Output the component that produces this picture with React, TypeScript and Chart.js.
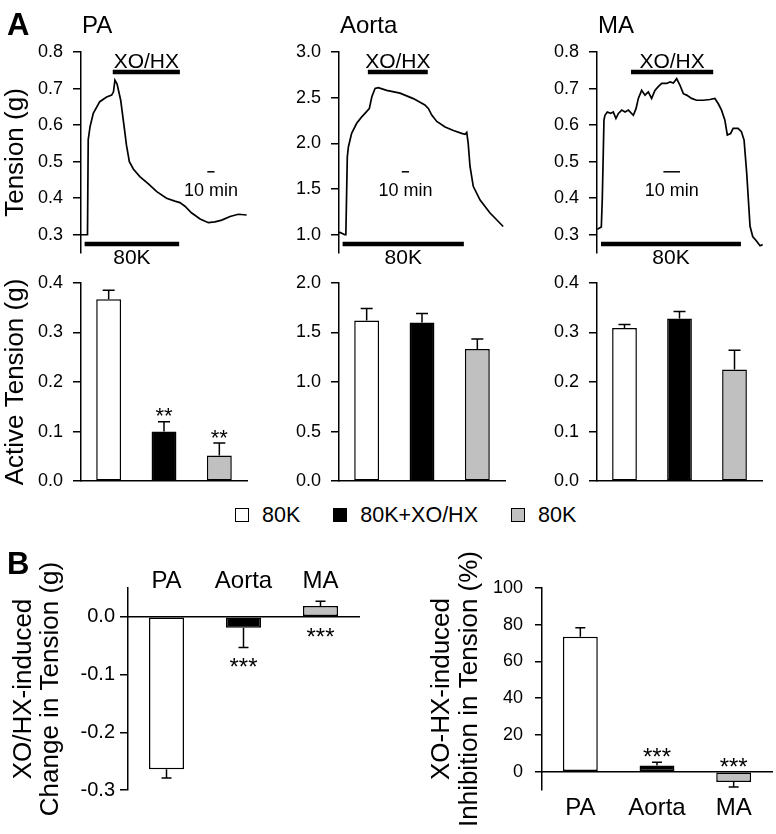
import React, { useEffect, useRef } from 'react';
import { Chart, registerables } from 'chart.js';
Chart.register(...registerables);

const FONT = '"Liberation Sans", Arial, Helvetica, sans-serif';
Chart.defaults.font.family = FONT;
Chart.defaults.color = '#000';

// ---------- Panel A, raw traces (time in min, tension in g) ----------
const PA_TIME = [0, 9, 10, 12.5, 17, 26, 35.5, 42.5, 45, 47, 50, 55, 59.5, 63, 67, 72.5, 81.5, 93, 105, 118.5, 130, 137, 144, 153, 165, 176.5, 185.5, 195, 206.5, 218, 229.5];
const PA_TENSION = [0.3, 0.3, 0.56, 0.595, 0.632, 0.664, 0.677, 0.682, 0.691, 0.723, 0.712, 0.668, 0.6, 0.545, 0.5, 0.48, 0.459, 0.44, 0.418, 0.4, 0.392, 0.388, 0.378, 0.36, 0.343, 0.333, 0.335, 0.34, 0.35, 0.356, 0.354];
const PA_XOHX = [44, 137];
const PA_K80 = [5, 136];
const PA_SCALEBAR = [175, 185];

const AO_TIME = [0, 1.5, 8, 9.5, 11.5, 13, 17.5, 24.5, 31.5, 38.5, 42, 45.5, 50, 54.5, 66, 84.5, 103, 119, 124, 128.5, 135.5, 147, 158.5, 170, 174.5, 177, 179, 181.5, 186, 195.5, 209, 227.5];
const AO_TENSION = [1.02, 1.025, 1.0, 1.0, 1.85, 1.96, 2.11, 2.22, 2.29, 2.35, 2.38, 2.51, 2.6, 2.61, 2.58, 2.55, 2.49, 2.42, 2.38, 2.31, 2.24, 2.18, 2.14, 2.11, 2.1, 2.12, 2.0, 1.75, 1.53, 1.38, 1.24, 1.09];
const AO_XOHX = [40, 123];
const AO_K80 = [5, 173];
const AO_SCALEBAR = [87, 97];

const MA_TIME = [0.2, 2.6, 3.2, 4.2, 4.8, 6.2, 8.2, 9.8, 11.4, 12.9, 14.9, 16.9, 18.9, 21.9, 23.5, 24.9, 26.9, 28.9, 30.9, 32.9, 34.9, 36.9, 39, 42, 44, 46, 48, 50, 52, 54, 57, 60, 64, 68, 71, 73, 75, 77, 78.5, 80.5, 82, 85, 87, 88.6, 90.2, 91.2, 92.2, 93.8, 96.2, 98.2, 99.8];
const MA_TENSION = [0.315, 0.321, 0.4, 0.614, 0.627, 0.636, 0.632, 0.636, 0.618, 0.632, 0.641, 0.636, 0.641, 0.627, 0.645, 0.673, 0.695, 0.682, 0.691, 0.673, 0.695, 0.705, 0.714, 0.714, 0.718, 0.715, 0.727, 0.709, 0.686, 0.682, 0.673, 0.668, 0.668, 0.67, 0.673, 0.659, 0.641, 0.614, 0.573, 0.577, 0.591, 0.591, 0.582, 0.559, 0.468, 0.395, 0.323, 0.295, 0.282, 0.27, 0.273];
const MA_XOHX = [20.5, 70];
const MA_K80 = [2.4, 86.7];
const MA_SCALEBAR = [40, 50];

const TICKS_SMALL = [0.3, 0.4, 0.5, 0.6, 0.7, 0.8];
const TICKS_AORTA = [1.0, 1.5, 2.0, 2.5, 3.0];

// ---------- Panel A, active tension bars ----------
const CONDITIONS = ['80K', '80K+XO/HX', '80K'];
const CONDITION_COLORS = ['#ffffff', '#000000', '#c0c0c0'];
const PA_ACTIVE = [0.367, 0.1, 0.052];
const PA_ACTIVE_SEM = [0.018, 0.02, 0.025];
const PA_ACTIVE_SIG = ['', '**', '**'];
const AO_ACTIVE = [1.62, 1.6, 1.333];
const AO_ACTIVE_SEM = [0.12, 0.09, 0.1];
const AO_ACTIVE_SIG = ['', '', ''];
const MA_ACTIVE = [0.309, 0.328, 0.225];
const MA_ACTIVE_SEM = [0.007, 0.014, 0.039];
const MA_ACTIVE_SIG = ['', '', ''];
const TICKS_ACT_SMALL = [0, 0.1, 0.2, 0.3, 0.4];
const TICKS_ACT_AORTA = [0, 0.5, 1.0, 1.5, 2.0];

// ---------- Panel B ----------
const SITES = ['PA', 'Aorta', 'MA'];
const SITE_COLORS = ['#ffffff', '#000000', '#c0c0c0'];
const CHANGE = [-0.264, -0.019, 0.019];
const CHANGE_SEM = [0.015, 0.034, 0.008];
const CHANGE_SIG = ['', '***', '***'];
const TICKS_CHANGE = [-0.3, -0.2, -0.1, 0.0];
const INHIB = [73.5, 3.3, -5.6];
const INHIB_SEM = [4.9, 1.8, 2.8];
const INHIB_SIG = ['', '***', '***'];
const TICKS_INHIB = [0, 20, 40, 60, 80, 100];

// ---------- drawing helpers ----------
const XOHX_LEVEL = 0.9;
const K80_LEVEL = 0.045;
const BAR_LEVEL = 0.404;

function drawCap(ctx, text, x, yc, size, align = 'center') {
  ctx.save();
  ctx.font = `${size}px ${FONT}`;
  ctx.fillStyle = '#000';
  ctx.textAlign = align;
  ctx.textBaseline = 'alphabetic';
  ctx.fillText(text, x, yc + 0.358 * size);
  ctx.restore();
}

function drawStars(ctx, text, x, yc, size) {
  ctx.save();
  ctx.font = `${size}px ${FONT}`;
  ctx.fillStyle = '#000';
  ctx.textAlign = 'center';
  ctx.textBaseline = 'alphabetic';
  ctx.fillText(text, x, yc + 0.58 * size);
  ctx.restore();
}

const traceNotes = {
  id: 'traceNotes',
  afterDatasetsDraw(chart, _args, o) {
    const { ctx, chartArea } = chart;
    const xs = chart.scales.x;
    const ys = chart.scales.y;
    const lv = (f) => ys.getPixelForValue(ys.min + f * (ys.max - ys.min));
    const mid = (r) => xs.getPixelForValue((r[0] + r[1]) / 2);
    drawCap(ctx, o.title, chartArea.left + 1, chartArea.top - 28, 24, 'left');
    drawCap(ctx, 'XO/HX', mid(o.xohx), lv(XOHX_LEVEL) - 12, 21);
    drawCap(ctx, '80K', mid(o.k80), lv(K80_LEVEL) + 13, 21);
    drawCap(ctx, '10 min', mid(o.bar), lv(BAR_LEVEL) + 18, 18);
  },
};

const errStars = {
  id: 'errStars',
  afterDatasetsDraw(chart, _args, o) {
    const { ctx } = chart;
    const ys = chart.scales.y;
    const meta = chart.getDatasetMeta(0);
    const vals = chart.data.datasets[0].data;
    ctx.save();
    ctx.strokeStyle = '#000';
    ctx.lineWidth = 1.5;
    meta.data.forEach((bar, i) => {
      const v = vals[i];
      const e = o.err[i];
      const dir = v >= 0 ? 1 : -1;
      const y0 = ys.getPixelForValue(v);
      const y1 = ys.getPixelForValue(v + dir * e);
      ctx.beginPath();
      ctx.moveTo(bar.x, y0);
      ctx.lineTo(bar.x, y1);
      ctx.moveTo(bar.x - o.cap / 2, y1);
      ctx.lineTo(bar.x + o.cap / 2, y1);
      ctx.stroke();
      if (o.sig[i]) {
        const anchor = o.below ? Math.min(0, v < 0 ? v - e : 0) : Math.max(0, v >= 0 ? v + e : 0);
        const ay = ys.getPixelForValue(anchor);
        drawStars(ctx, o.sig[i], bar.x, o.below ? ay + o.gap : ay - o.gap, o.starSize);
      }
    });
    ctx.restore();
  },
};

function yAxis({ min, max, ticks, digits, width, tickLen, pad, tickSize, title, titleSize, titlePad, titleLH }) {
  return {
    type: 'linear',
    position: 'left',
    min,
    max,
    afterBuildTicks: (s) => {
      s.ticks = ticks.map((v) => ({ value: v }));
    },
    afterFit: (s) => {
      s.width = width;
    },
    ticks: {
      callback: (v) => Number(v).toFixed(digits),
      font: { size: tickSize || 18, family: FONT },
      color: '#000',
      padding: pad,
    },
    grid: { display: true, drawOnChartArea: false, drawTicks: true, tickLength: tickLen, color: '#000', lineWidth: 1.5 },
    border: { display: true, color: '#000', width: 1.5 },
    title: title
      ? {
          display: true,
          text: title,
          color: '#000',
          font: { size: titleSize, family: FONT, lineHeight: titleLH || 1.2 },
          padding: { top: titlePad, bottom: 0 },
        }
      : { display: false },
  };
}

const baseOptions = {
  responsive: false,
  animation: false,
  devicePixelRatio: 1,
  events: [],
};

function traceConfig(p) {
  const lv = (f) => p.ymin + f * (p.ymax - p.ymin);
  const seg = (r, f) => [
    { x: r[0], y: lv(f) },
    { x: r[1], y: lv(f) },
  ];
  const line = (data, w) => ({
    data,
    borderColor: '#000',
    backgroundColor: '#000',
    borderWidth: w,
    pointRadius: 0,
    tension: 0,
    fill: false,
  });
  return {
    type: 'line',
    data: {
      datasets: [
        line(p.time.map((t, i) => ({ x: t, y: p.tension[i] })), 1.7),
        line(seg(p.xohx, XOHX_LEVEL), 4.5),
        line(seg(p.k80, K80_LEVEL), 4.5),
        line(seg(p.bar, BAR_LEVEL), 1.5),
      ],
    },
    options: {
      ...baseOptions,
      layout: { padding: { left: 0, top: 52, right: p.padRight, bottom: 22 } },
      plugins: {
        legend: { display: false },
        tooltip: { enabled: false },
        traceNotes: { title: p.title, xohx: p.xohx, k80: p.k80, bar: p.bar },
      },
      scales: {
        x: { type: 'linear', display: false, min: 0, max: p.xmax },
        y: yAxis({
          min: p.ymin,
          max: p.ymax,
          ticks: p.ticks,
          digits: 1,
          width: p.yWidth,
          tickLen: 8,
          pad: 10,
          title: p.yTitle,
          titleSize: 26,
          titlePad: 0.5,
        }),
      },
    },
    plugins: [traceNotes],
  };
}

function activeConfig(p) {
  return {
    type: 'bar',
    data: {
      labels: CONDITIONS,
      datasets: [
        {
          data: p.values,
          backgroundColor: CONDITION_COLORS,
          borderColor: '#000',
          borderWidth: 1.5,
          borderSkipped: false,
          barPercentage: 0.45,
          categoryPercentage: 1,
        },
      ],
    },
    options: {
      ...baseOptions,
      layout: { padding: { left: 0, top: 20, right: p.padRight, bottom: 19 } },
      plugins: {
        legend: { display: false },
        tooltip: { enabled: false },
        errStars: { err: p.sem, sig: p.sig, cap: 12, below: false, gap: 11, starSize: 22 },
      },
      scales: {
        x: {
          type: 'category',
          position: 'bottom',
          grid: { display: false },
          ticks: { display: false },
          border: { display: true, color: '#000', width: 1.5 },
          afterFit: (s) => {
            s.height = 0;
          },
        },
        y: yAxis({
          min: 0,
          max: p.max,
          ticks: p.ticks,
          digits: 1,
          width: p.yWidth,
          tickLen: 8,
          pad: 10,
          title: p.yTitle,
          titleSize: 26,
          titlePad: 0,
        }),
      },
    },
    plugins: [errStars],
  };
}

function siteConfig(p) {
  const labelAxis = {
    type: 'category',
    labels: SITES,
    position: p.labelPos,
    offset: true,
    grid: { display: false, drawTicks: false },
    border: { display: false },
    ticks: { font: { size: 24, family: FONT, lineHeight: 1 }, color: '#000', padding: p.labelPad },
    afterFit: (s) => {
      s.height = p.labelH;
    },
  };
  return {
    type: 'bar',
    data: {
      labels: SITES,
      datasets: [
        {
          data: p.values,
          xAxisID: 'x',
          yAxisID: 'y',
          backgroundColor: SITE_COLORS,
          borderColor: '#000',
          borderWidth: 1.5,
          borderSkipped: false,
          barPercentage: 0.455,
          categoryPercentage: 1,
        },
      ],
    },
    options: {
      ...baseOptions,
      layout: { padding: p.padding },
      plugins: {
        legend: { display: false },
        tooltip: { enabled: false },
        errStars: { err: p.sem, sig: p.sig, cap: 10, below: p.starsBelow, gap: p.starsBelow ? 14 : 11, starSize: 24 },
      },
      scales: {
        x: {
          type: 'category',
          position: { y: 0 },
          grid: { display: false },
          ticks: { display: false },
          border: { display: true, color: '#000', width: 1.5 },
          afterFit: (s) => {
            s.height = 0;
          },
        },
        xl: labelAxis,
        y: yAxis({
          min: p.min,
          max: p.max,
          ticks: p.ticks,
          digits: p.digits,
          width: p.yWidth,
          tickLen: p.tickLen,
          pad: p.tickPad,
          tickSize: p.tickSize,
          title: p.yTitle,
          titleSize: 26,
          titlePad: p.titlePad,
          titleLH: 1.05,
        }),
      },
    },
    plugins: [errStars],
  };
}

function ChartBox({ x, y, w, h, make }) {
  const ref = useRef(null);
  useEffect(() => {
    const chart = new Chart(ref.current, make());
    return () => chart.destroy();
  }, []);
  return (
    <div style={{ position: 'absolute', left: x, top: y, width: w, height: h }}>
      <canvas ref={ref} width={w} height={h} style={{ width: w, height: h, display: 'block' }} />
    </div>
  );
}

const letterStyle = (left, top) => ({
  position: 'absolute',
  left,
  top,
  font: `bold 31px ${FONT}`,
  lineHeight: 1,
  color: '#000',
});

function Legend() {
  return (
    <div
      style={{
        position: 'absolute',
        left: 235,
        top: 503,
        display: 'flex',
        alignItems: 'center',
        gap: 33,
        font: `21.5px ${FONT}`,
        lineHeight: '24px',
        color: '#000',
      }}
    >
      {CONDITIONS.map((c, i) => (
        <div key={i} style={{ display: 'flex', alignItems: 'center', gap: 13 }}>
          <div
            style={{
              width: 14,
              height: 14,
              boxSizing: 'border-box',
              border: '1.5px solid #000',
              background: CONDITION_COLORS[i],
            }}
          />
          <span>{c}</span>
        </div>
      ))}
    </div>
  );
}

export default function App() {
  return (
    <div style={{ position: 'absolute', left: 0, top: 0, width: 776, height: 834, background: '#fff', overflow: 'hidden' }}>
      <ChartBox
        x={0}
        y={0}
        w={262}
        h={275}
        make={() =>
          traceConfig({
            title: 'PA', time: PA_TIME, tension: PA_TENSION, xohx: PA_XOHX, k80: PA_K80, bar: PA_SCALEBAR,
            xmax: 230, ymin: 0.25, ymax: 0.8, ticks: TICKS_SMALL, yWidth: 81, padRight: 15, yTitle: 'Tension (g)',
          })
        }
      />
      <ChartBox
        x={262}
        y={0}
        w={258}
        h={275}
        make={() =>
          traceConfig({
            title: 'Aorta', time: AO_TIME, tension: AO_TENSION, xohx: AO_XOHX, k80: AO_K80, bar: AO_SCALEBAR,
            xmax: 230, ymin: 0.8, ymax: 3.0, ticks: TICKS_AORTA, yWidth: 77, padRight: 15, yTitle: null,
          })
        }
      />
      <ChartBox
        x={520}
        y={0}
        w={256}
        h={275}
        make={() =>
          traceConfig({
            title: 'MA', time: MA_TIME, tension: MA_TENSION, xohx: MA_XOHX, k80: MA_K80, bar: MA_SCALEBAR,
            xmax: 100, ymin: 0.25, ymax: 0.8, ticks: TICKS_SMALL, yWidth: 77, padRight: 13, yTitle: null,
          })
        }
      />
      <ChartBox
        x={0}
        y={262}
        w={262}
        h={240}
        make={() =>
          activeConfig({
            values: PA_ACTIVE, sem: PA_ACTIVE_SEM, sig: PA_ACTIVE_SIG, max: 0.4, ticks: TICKS_ACT_SMALL,
            yWidth: 81, padRight: 15, yTitle: 'Active Tension (g)',
          })
        }
      />
      <ChartBox
        x={262}
        y={262}
        w={258}
        h={240}
        make={() =>
          activeConfig({
            values: AO_ACTIVE, sem: AO_ACTIVE_SEM, sig: AO_ACTIVE_SIG, max: 2.0, ticks: TICKS_ACT_AORTA,
            yWidth: 77, padRight: 15, yTitle: null,
          })
        }
      />
      <ChartBox
        x={520}
        y={262}
        w={256}
        h={240}
        make={() =>
          activeConfig({
            values: MA_ACTIVE, sem: MA_ACTIVE_SEM, sig: MA_ACTIVE_SIG, max: 0.4, ticks: TICKS_ACT_SMALL,
            yWidth: 77, padRight: 14, yTitle: null,
          })
        }
      />
      <Legend />
      <ChartBox
        x={0}
        y={540}
        w={400}
        h={294}
        make={() =>
          siteConfig({
            values: CHANGE, sem: CHANGE_SEM, sig: CHANGE_SIG, starsBelow: true,
            min: -0.3, max: 0.05, ticks: TICKS_CHANGE, digits: 1, tickSize: 20,
            yWidth: 128, tickLen: 8, tickPad: 5, titlePad: 10,
            yTitle: ['XO/HX-induced', 'Change in Tension (g)'],
            labelPos: 'top', labelPad: -5, labelH: 30,
            padding: { left: 0, top: 18, right: 41, bottom: 44 },
          })
        }
      />
      <ChartBox
        x={420}
        y={540}
        w={356}
        h={294}
        make={() =>
          siteConfig({
            values: INHIB, sem: INHIB_SEM, sig: INHIB_SIG, starsBelow: false,
            min: -10, max: 100, ticks: TICKS_INHIB, digits: 0, tickSize: 18,
            yWidth: 122, tickLen: 7, tickPad: 12, titlePad: 8.5,
            yTitle: ['XO-HX-induced', 'Inhibition in Tension (%)'],
            labelPos: 'bottom', labelPad: 6, labelH: 40,
            padding: { left: 0, top: 48, right: 4, bottom: 4 },
          })
        }
      />
      <div style={letterStyle(7, 9)}>A</div>
      <div style={letterStyle(7, 548)}>B</div>
    </div>
  );
}
